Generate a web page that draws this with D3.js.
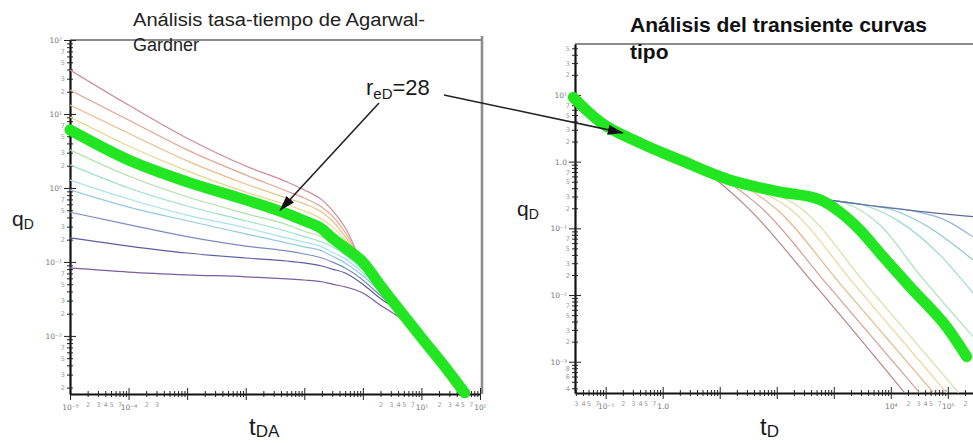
<!DOCTYPE html>
<html lang="es">
<head>
<meta charset="utf-8">
<title>Curvas tipo</title>
<script src="https://cdnjs.cloudflare.com/ajax/libs/d3/7.8.5/d3.min.js"></script>
<style>
  body { margin: 0; background: #fff; }
  svg { display: block; font-family: "Liberation Sans", Arial, sans-serif; }
  .axis .domain { stroke: #111; stroke-width: 2.2px; }
  .axis .tick line { stroke: #222; stroke-width: 1px; }
  .tick-label { font-size: 6.5px; fill: #9a9a9a; font-family: "DejaVu Sans", sans-serif; }
  .tick-label.major { font-size: 7.5px; fill: #777; }
  .frame { stroke: #8c8c8c; stroke-width: 2px; }
  .thin { fill: none; stroke-width: 1.2px; }
  .highlight { fill: none; stroke: #22e622; stroke-width: 11px; stroke-linecap: round; stroke-linejoin: round; }
</style>
</head>
<body>
<div id="chart"></div>
<script>
// ---------- left panel: Agarwal-Gardner rate-time (qD vs tDA) ----------
const tdaSamples = [1e-5, 1e-4, 1e-3, 1e-2, 0.05, 0.1, 0.2, 0.3, 0.5, 1, 2, 5];

// qD of every stem read at tdaSamples, top curve first
const agStems = [
  [39.4, 13.2, 4.7, 1.98, 1.21, 0.94, 0.69, 0.50, 0.29],
  [21.1, 8.3, 3.27, 1.50, 0.91, 0.73, 0.55, 0.42, 0.25],
  [13.2, 5.5, 2.32, 1.13, 0.73, 0.61, 0.47, 0.36, 0.22],
  [9.1, 3.7, 1.70, 0.88, 0.59, 0.49, 0.38, 0.30, 0.198],
  [3.27, 1.45, 0.76, 0.45, 0.32, 0.26, 0.218, 0.181, 0.136, 0.083],
  [2.05, 1.00, 0.57, 0.36, 0.26, 0.22, 0.186, 0.160, 0.124, 0.078],
  [1.28, 0.71, 0.43, 0.29, 0.211, 0.186, 0.160, 0.136, 0.110, 0.071, 0.043],
  [0.94, 0.55, 0.36, 0.24, 0.181, 0.160, 0.141, 0.120, 0.097, 0.065, 0.039],
  [0.47, 0.32, 0.22, 0.164, 0.141, 0.128, 0.113, 0.100, 0.083, 0.057, 0.035],
  [0.211, 0.164, 0.132, 0.113, 0.103, 0.097, 0.088, 0.080, 0.071, 0.050, 0.032],
  [0.083, 0.073, 0.067, 0.063, 0.059, 0.057, 0.054, 0.050, 0.046, 0.038, 0.026, 0.016]
];
// boundary-dominated decline that all stems end on
const agTail = [[1, 0.095], [2, 0.048], [5, 0.019], [10, 0.0095], [30, 0.0032], [70, 0.0014]];
// highlighted reD = 28 curve
const agHighlight = [6.1, 2.39, 1.21, 0.69, 0.45, 0.36, 0.28, 0.21, 0.155];
const agHighlightTail = [[1, 0.1], [2, 0.048], [5, 0.019], [10, 0.0095], [30, 0.0032], [55, 0.0017]];

// tick labels still legible on the left axes
const tdaLabels = [1e-5, 2e-5, 3e-5, 4e-5, 5e-5, 7e-5, 1e-4, 2e-4, 3e-4, 2, 3, 4, 5, 7, 10, 20, 30, 40, 50, 70, 100];
const qdLeftLabels = [0.002, 0.003, 0.005, 0.007, 0.01, 0.02, 0.03, 0.05, 0.07, 0.1, 0.2, 0.3, 0.5, 0.7,
  1, 2, 3, 5, 7, 10, 20, 30, 50, 70, 100];

// ---------- right panel: transient type curves (qD vs tD) ----------
// infinite-acting stem shared by every curve
const tdStem = [[0.029, 8.7], [0.08, 4.2], [0.4, 2.0], [2, 1.1], [7.5, 0.70], [15, 0.53], [30, 0.46],
  [60, 0.40], [120, 0.35], [250, 0.31], [500, 0.28], [1000, 0.26], [4300, 0.22], [32000, 0.18], [280000, 0.15]];
// each branch from where it leaves the stem, left to right
const tdBranches = [
  [[4.5, 0.81], [7.5, 0.59], [30, 0.21], [430, 0.0153], [17600, 0.00034]],
  [[9, 0.66], [15, 0.48], [55, 0.2], [800, 0.0138], [32300, 0.00034]],
  [[16, 0.52], [27, 0.42], [95, 0.2], [1400, 0.0136], [56700, 0.00034]],
  [[28, 0.46], [48, 0.37], [165, 0.2], [2400, 0.0138], [96000, 0.00034]],
  [[45, 0.42], [80, 0.35], [265, 0.2], [3900, 0.0136], [156000, 0.00034]],
  [[1560, 0.24], [6400, 0.113], [32300, 0.020], [275000, 0.0024]],
  [[3500, 0.22], [14400, 0.125], [72400, 0.040], [275000, 0.0108]],
  [[9600, 0.195], [39400, 0.113], [275000, 0.0337]],
  [[26400, 0.18], [88500, 0.134], [275000, 0.0746]]
];
// highlighted reD = 28 curve
const tdHighlight = [[0.027, 9.2], [0.08, 3.94], [0.4, 1.91], [2, 1.06], [15, 0.53], [113, 0.352], [570, 0.27],
  [1270, 0.177], [2860, 0.095], [6400, 0.043], [24300, 0.012], [96000, 0.0033], [215000, 0.00119]];

const tdLabels = [0.03, 0.04, 0.05, 0.07, 0.1, 0.2, 0.3, 0.4, 0.5, 0.7, 1, 1e4, 2e4, 3e4, 4e4, 5e4, 7e4, 1e5, 2e5];
const qdRightLabels = [0.0004, 0.0006, 0.0008, 0.001, 0.002, 0.003, 0.005, 0.007, 0.01, 0.02, 0.03, 0.05, 0.07,
  0.1, 0.2, 0.3, 0.5, 0.7, 1, 2, 3, 5, 7, 10, 20, 30, 50];

// line colours (styles kept apart from the data)
const agColors = ['#cf8b95', '#e3a58f', '#edbd86', '#e6d88c', '#aee3a3', '#98e3c6', '#a6e2ee', '#93c8e3',
  '#7b8cc4', '#5d5ca3', '#7a5ca0'];
const tdColors = ['#b98585', '#d6a193', '#e8b98d', '#ecd79a', '#d2e3a6', '#a9e2b9', '#99dccf', '#8cc7cf', '#93b6d6'];
const tdStemColor = '#5d6b9e';

const width = 973;
const height = 444;

const sup = { '-': '⁻', '0': '⁰', '1': '¹', '2': '²', '3': '³', '4': '⁴', '5': '⁵', '6': '⁶', '7': '⁷', '8': '⁸', '9': '⁹' };
const power = k => '10' + String(k).split('').map(c => sup[c]).join('');
const isDecade = d => {
    const e = Math.log10(d);
    return Math.abs(e - Math.round(e)) < 1e-6;
};

function tickText(d, labelled, oneText) {
    if (!labelled.some(v => Math.abs(v - d) / d < 1e-6)) return '';
    const e = Math.log10(d);
    if (isDecade(d)) {
        const k = Math.round(e);
        return (k === 0 && oneText) ? oneText : power(k);
    }
    return String(Math.round(d / Math.pow(10, Math.floor(e + 1e-9))));
}

function drawAxes(g, x, y, box, xLabelled, yLabelled, oneText) {
    const xTicks = x.ticks();
    const yTicks = y.ticks();

    // grey frame on top (and on the right for the left panel)
    g.append('line').attr('class', 'frame')
        .attr('x1', box.left).attr('x2', box.right)
        .attr('y1', box.top).attr('y2', box.top);
    if (box.rightBorder) {
        g.append('line').attr('class', 'frame')
            .attr('x1', box.right).attr('x2', box.right)
            .attr('y1', box.top - 4).attr('y2', box.bottom)
            .style('stroke-width', '2.6px');
    }

    // bottom axis: ticks below with labels, then ticks above
    const bottom = g.append('g').attr('class', 'axis')
        .attr('transform', `translate(0,${box.bottom})`)
        .call(d3.axisBottom(x).tickValues(xTicks).tickSizeInner(3).tickSizeOuter(0).tickPadding(5)
            .tickFormat(d => tickText(d, xLabelled, oneText)));
    bottom.selectAll('.tick line').attr('y2', d => isDecade(d) ? 6 : 3);
    bottom.selectAll('.tick text').attr('class', d => isDecade(d) ? 'tick-label major' : 'tick-label')
        .attr('dy', d => isDecade(d) ? '1.1em' : '0.71em');

    const bottomUp = g.append('g').attr('class', 'axis')
        .attr('transform', `translate(0,${box.bottom})`)
        .call(d3.axisTop(x).tickValues(xTicks).tickSizeInner(3).tickSizeOuter(0).tickFormat(''));
    bottomUp.select('.domain').remove();
    bottomUp.selectAll('.tick line').attr('y2', d => isDecade(d) ? -6 : -3);

    // left axis: ticks out with labels, then ticks in
    const left = g.append('g').attr('class', 'axis')
        .attr('transform', `translate(${box.left},0)`)
        .call(d3.axisLeft(y).tickValues(yTicks).tickSizeInner(3).tickSizeOuter(0).tickPadding(3)
            .tickFormat(d => tickText(d, yLabelled, oneText)));
    left.selectAll('.tick line').attr('x2', d => isDecade(d) ? -6 : -3);
    left.selectAll('.tick text').attr('class', d => isDecade(d) ? 'tick-label major' : 'tick-label')
        .attr('x', d => isDecade(d) ? -8 : -5);

    const leftIn = g.append('g').attr('class', 'axis')
        .attr('transform', `translate(${box.left},0)`)
        .call(d3.axisRight(y).tickValues(yTicks).tickSizeInner(3).tickSizeOuter(0).tickFormat(''));
    leftIn.select('.domain').remove();
    leftIn.selectAll('.tick line').attr('x2', d => isDecade(d) ? 6 : 3);
}

function subLabel(svg, x, y, main, sub, mainSize, subSize, shift) {
    const t = svg.append('text').attr('x', x).attr('y', y).attr('fill', '#1a1a1a');
    t.append('tspan').attr('font-size', mainSize).text(main);
    t.append('tspan').attr('font-size', subSize).attr('dy', shift).text(sub);
    return t;
}

// Create an SVG container
const svg = d3.select('#chart')
    .append('svg')
    .attr('width', width)
    .attr('height', height);

const defs = svg.append('defs');
defs.append('marker')
    .attr('id', 'head')
    .attr('viewBox', '0 0 16 10')
    .attr('refX', 15).attr('refY', 5)
    .attr('markerWidth', 16).attr('markerHeight', 10)
    .attr('markerUnits', 'userSpaceOnUse')
    .attr('orient', 'auto')
    .append('path')
    .attr('d', 'M0,0 L16,5 L0,10 Z')
    .attr('fill', '#111');

// ---------- left panel ----------
const leftBox = { left: 70, right: 482, top: 40, bottom: 394, rightBorder: true };
const xL = d3.scaleLog().domain([1e-5, 100]).range([70, 480]);
const yL = d3.scaleLog().domain([0.00164, 100]).range([394, 40]);

defs.append('clipPath').attr('id', 'clipL').append('rect')
    .attr('x', leftBox.left).attr('y', leftBox.top)
    .attr('width', leftBox.right - leftBox.left).attr('height', leftBox.bottom - leftBox.top);

const gL = svg.append('g');
drawAxes(gL, xL, yL, leftBox, tdaLabels, qdLeftLabels, null);

const lineL = d3.line()
    .x(d => xL(d[0]))
    .y(d => yL(d[1]))
    .curve(d3.curveMonotoneX);

function withTail(values, tail) {
    const pts = values.map((q, i) => [tdaSamples[i], q]);
    const last = pts[pts.length - 1][0];
    return pts.concat(tail.filter(p => p[0] > last));
}

gL.append('g').attr('clip-path', 'url(#clipL)')
    .selectAll('path')
    .data(agStems)
    .join('path')
    .attr('class', 'thin')
    .attr('stroke', (d, i) => agColors[i])
    .attr('d', d => lineL(withTail(d, agTail)));

gL.append('path')
    .attr('class', 'highlight')
    .attr('d', lineL(agHighlight.map((q, i) => [tdaSamples[i], q]).concat(agHighlightTail)));

// ---------- right panel ----------
const rightBox = { left: 575, right: 973, top: 44, bottom: 393, rightBorder: false };
const xR = d3.scaleLog().domain([0.029, 2e6]).range([575, 1022]);
const yR = d3.scaleLog().domain([3.4e-4, 58]).range([393, 44]);

defs.append('clipPath').attr('id', 'clipR').append('rect')
    .attr('x', rightBox.left).attr('y', rightBox.top)
    .attr('width', rightBox.right - rightBox.left).attr('height', rightBox.bottom - rightBox.top);

const gR = svg.append('g');
drawAxes(gR, xR, yR, rightBox, tdLabels, qdRightLabels, '1.0');

const lineR = d3.line()
    .x(d => xR(d[0]))
    .y(d => yR(d[1]))
    .curve(d3.curveMonotoneX);

const thinR = gR.append('g').attr('clip-path', 'url(#clipR)');
thinR.selectAll('path.branch')
    .data(tdBranches)
    .join('path')
    .attr('class', 'thin branch')
    .attr('stroke', (d, i) => tdColors[i])
    .attr('d', d => lineR(tdStem.filter(p => p[0] < d[0][0]).concat(d)));
thinR.append('path')
    .attr('class', 'thin')
    .attr('stroke', tdStemColor)
    .attr('d', lineR(tdStem));

gR.append('path')
    .attr('class', 'highlight')
    .attr('d', lineR(tdHighlight));

// ---------- titles and axis names ----------
svg.append('text')
    .attr('x', 133).attr('y', 26)
    .attr('font-size', 18).attr('fill', '#222')
    .attr('textLength', 292).attr('lengthAdjust', 'spacingAndGlyphs')
    .text('Análisis tasa-tiempo de Agarwal-');
svg.append('text')
    .attr('x', 133).attr('y', 51)
    .attr('font-size', 18).attr('fill', '#222')
    .text('Gardner');

svg.append('text')
    .attr('x', 630).attr('y', 32)
    .attr('font-size', 21).attr('font-weight', 'bold').attr('fill', '#111')
    .attr('textLength', 297).attr('lengthAdjust', 'spacingAndGlyphs')
    .text('Análisis del transiente curvas');
svg.append('text')
    .attr('x', 630).attr('y', 59)
    .attr('font-size', 21).attr('font-weight', 'bold').attr('fill', '#111')
    .text('tipo');

subLabel(svg, 12, 226, 'q', 'D', 21, 14, 3);
subLabel(svg, 517, 216, 'q', 'D', 21, 14, 3);
subLabel(svg, 249, 435, 't', 'DA', 24, 17, 2);
subLabel(svg, 760, 435, 't', 'D', 24, 17, 2);

// ---------- reD = 28 annotation with both arrows ----------
const note = svg.append('text').attr('x', 366).attr('y', 95).attr('fill', '#1a1a1a');
note.append('tspan').attr('font-size', 22).text('r');
note.append('tspan').attr('font-size', 15).attr('dy', 4).text('eD');
note.append('tspan').attr('font-size', 22).attr('dy', -4).text('=28');

svg.append('line')
    .attr('x1', 379).attr('y1', 103)
    .attr('x2', xL(0.0386)).attr('y2', yL(0.50))
    .attr('stroke', '#222').attr('stroke-width', 1.6)
    .attr('marker-end', 'url(#head)');

svg.append('line')
    .attr('x1', 444).attr('y1', 95)
    .attr('x2', xR(0.2)).attr('y2', yR(2.7))
    .attr('stroke', '#222').attr('stroke-width', 1.6)
    .attr('marker-end', 'url(#head)');
</script>
</body>
</html>
